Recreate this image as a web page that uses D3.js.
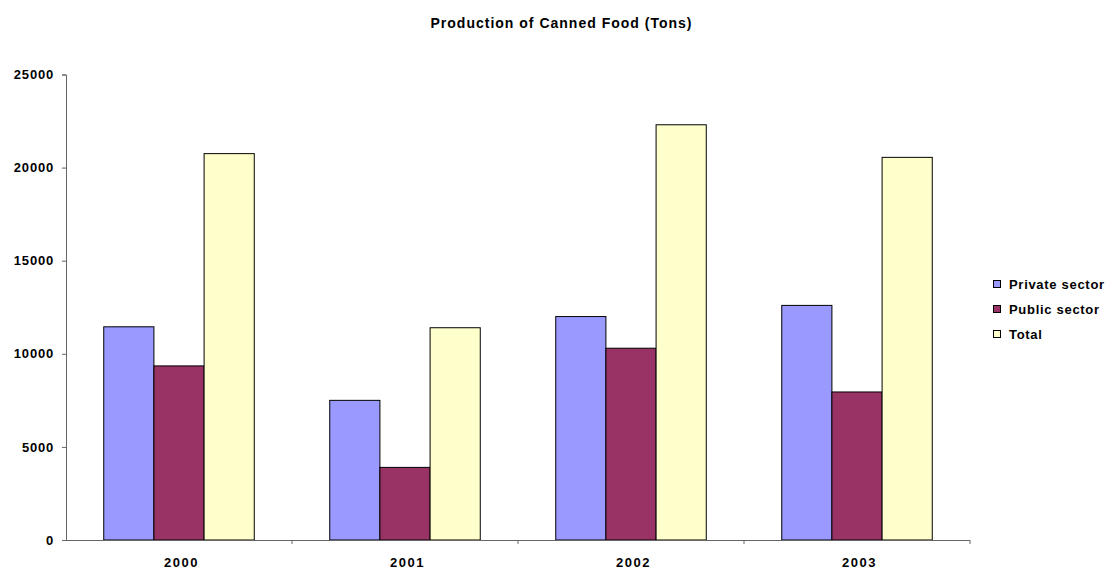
<!DOCTYPE html>
<html>
<head>
<meta charset="utf-8">
<script src="https://cdn.jsdelivr.net/npm/d3@7"></script>
<style>
  body { margin: 0; background: #fff; }
  svg { font-family: "Liberation Sans", Arial, sans-serif; font-weight: bold; }
</style>
</head>
<body>
<div id="chart"></div>
<script>
// chart data
var years = ['2000', '2001', '2002', '2003'];
var seriesNames = ['Private sector', 'Public sector', 'Total'];
var privateSector = [11450, 7500, 12000, 12600];
var publicSector = [9350, 3900, 10300, 7950];
var total = [20750, 11400, 22300, 20550];
var yTicks = [0, 5000, 10000, 15000, 20000, 25000];

var colors = ['#9999ff', '#993366', '#ffffcc'];
var seriesValues = [privateSector, publicSector, total];

var width = 1108, height = 569;
var plotLeft = 66, plotRight = 970, plotTop = 74.5, plotBottom = 540;

var svg = d3.select('#chart').append('svg')
    .attr('width', width)
    .attr('height', height);

var x = d3.scaleBand().domain(years).range([plotLeft, plotRight]).padding(0);
var inner = d3.scaleBand().domain(seriesNames)
    .range([x.bandwidth() * 0.167, x.bandwidth() * 0.833]);
var y = d3.scaleLinear().domain([0, 25000]).range([plotBottom, plotTop]);

// bars
var groups = svg.selectAll('.year')
    .data(years)
  .enter().append('g')
    .attr('class', 'year')
    .attr('transform', function(d) { return 'translate(' + x(d) + ',0)'; });

groups.selectAll('rect')
    .data(function(d, i) {
      return seriesNames.map(function(s, j) { return { name: s, value: seriesValues[j][i], k: j }; });
    })
  .enter().append('rect')
    .attr('x', function(d) { return inner(d.name); })
    .attr('y', function(d) { return y(d.value); })
    .attr('width', inner.bandwidth())
    .attr('height', function(d) { return plotBottom - y(d.value); })
    .attr('fill', function(d) { return colors[d.k]; })
    .attr('stroke', '#000')
    .attr('stroke-width', 1);

// y axis
var yAxis = svg.append('g')
    .attr('transform', 'translate(' + plotLeft + ',0)')
    .call(d3.axisLeft(y).tickValues(yTicks).tickSize(4).tickPadding(8).tickFormat(d3.format('d')));
yAxis.select('.domain').attr('stroke', '#666');
yAxis.selectAll('.tick line').attr('stroke', '#666');
yAxis.selectAll('text').attr('font-size', 13).attr('letter-spacing', 0.8).attr('fill', '#000');

// x axis
var xAxis = svg.append('g')
    .attr('transform', 'translate(0,' + plotBottom + ')')
    .call(d3.axisBottom(x).tickSize(4).tickPadding(14));
xAxis.select('.domain').attr('d', 'M' + (plotLeft - 4) + ',0.5H' + plotRight);
xAxis.select('.domain').attr('stroke', '#666');
xAxis.selectAll('.tick line').remove();
svg.append('g').selectAll('line')
    .data(years)
  .enter().append('line')
    .attr('x1', function(d) { return x(d) + x.step(); })
    .attr('x2', function(d) { return x(d) + x.step(); })
    .attr('y1', plotBottom)
    .attr('y2', plotBottom + 4)
    .attr('stroke', '#666');
xAxis.selectAll('text').attr('font-size', 13).attr('letter-spacing', 1.5)
    .attr('dx', 2.5).attr('fill', '#000');

// title
svg.append('text')
    .attr('x', 561.5)
    .attr('y', 28)
    .attr('text-anchor', 'middle')
    .attr('font-size', 14)
    .attr('letter-spacing', 1)
    .text('Production of Canned Food (Tons)');

// legend
var legend = svg.append('g').attr('transform', 'translate(993,283)');
var item = legend.selectAll('g')
    .data(seriesNames)
  .enter().append('g')
    .attr('transform', function(d, i) { return 'translate(0,' + i * 25 + ')'; });
item.append('rect')
    .attr('x', 0.5).attr('y', -2.5)
    .attr('width', 7).attr('height', 7)
    .attr('fill', function(d, i) { return colors[i]; })
    .attr('stroke', '#000');
item.append('text')
    .attr('x', 16)
    .attr('y', 6)
    .attr('font-size', 13)
    .attr('letter-spacing', 0.7)
    .text(function(d) { return d; });
</script>
</body>
</html>
